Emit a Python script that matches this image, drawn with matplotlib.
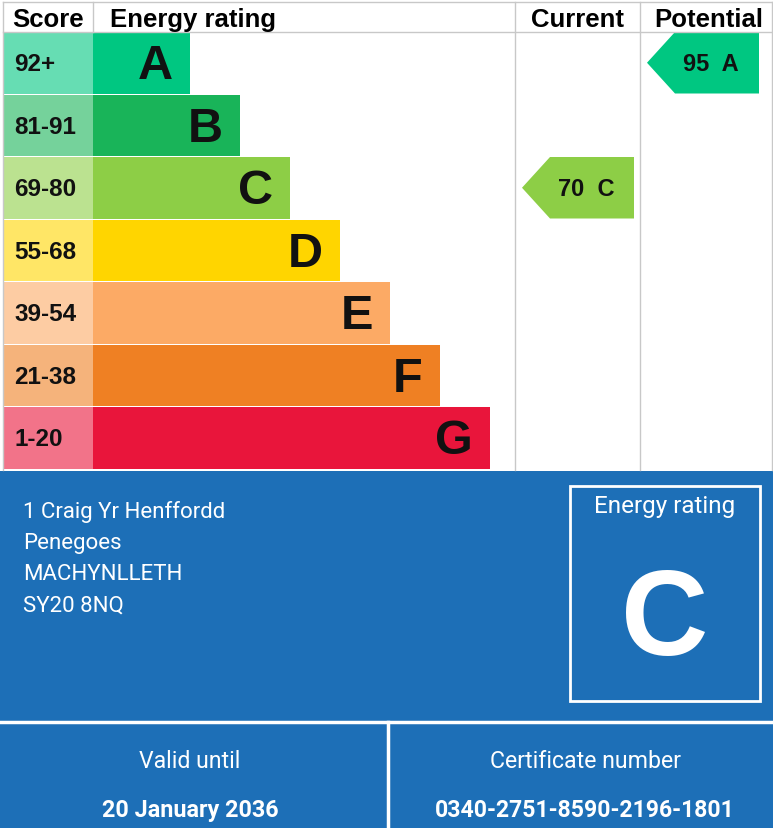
import matplotlib
matplotlib.use("Agg")
import matplotlib.pyplot as plt
from matplotlib.patches import Rectangle, Polygon

# ---- data ----
bands = ['A', 'B', 'C', 'D', 'E', 'F', 'G']
score_labels = ['92+', '81-91', '69-80', '55-68', '39-54', '21-38', '1-20']
band_colors = ['#00c781', '#19b459', '#8dce46', '#ffd500', '#fcaa65', '#ef8023', '#e9153b']
current_score = 70
current_band = 'C'
potential_score = 95
potential_band = 'A'
address_lines = ['1 Craig Yr Henffordd', 'Penegoes', 'MACHYNLLETH', 'SY20 8NQ']
valid_until = '20 January 2036'
certificate_number = '0340-2751-8590-2196-1801'

# ---- layout ----
W, H = 773, 829
fig = plt.figure(figsize=(W / 100, H / 100), dpi=100)
ax = fig.add_axes([0, 0, 1, 1])
ax.set_xlim(0, W)
ax.set_ylim(H, 0)
ax.axis('off')

BOLD = 'Liberation Sans'
GDS = 'Roboto'
grid = '#c8c8c8'
blue = '#1d6fb7'

top = 33
pitch = 62.5
rh = 61.5
score_x0, bar_x0 = 3, 93

def lighten(hexc, a=0.6):
    r, g, b = matplotlib.colors.to_rgb(hexc)
    return (r * a + (1 - a), g * a + (1 - a), b * a + (1 - a))

# grid lines
ax.plot([3, W - 1], [3, 3], color=grid, lw=1)
ax.plot([3, W - 1], [top, top], color=grid, lw=1)
for x in (3, 93, 515, 640, W - 1):
    ax.plot([x, x], [3, 471 if x != 93 else top], color=grid, lw=1)

# header
hs = 18.5
hy = 19.5
ax.text(48, hy, 'Score', ha='center', va='center', fontsize=hs, fontweight='bold', family=BOLD)
ax.text(110, hy, 'Energy rating', ha='left', va='center', fontsize=hs, fontweight='bold', family=BOLD)
ax.text(578, hy, 'Current', ha='center', va='center', fontsize=hs, fontweight='bold', family=BOLD)
ax.text(709, hy, 'Potential', ha='center', va='center', fontsize=hs, fontweight='bold', family=BOLD)

for i, (b, s, c) in enumerate(zip(bands, score_labels, band_colors)):
    y0 = top + i * pitch
    bar_end = 190 + 50 * i
    ax.add_patch(Rectangle((score_x0, y0), bar_x0 - score_x0, rh, facecolor=lighten(c), edgecolor='none'))
    ax.add_patch(Rectangle((bar_x0, y0), bar_end - bar_x0, rh, facecolor=c, edgecolor='none'))
    ax.text(14, y0 + rh / 2 + 1, s, ha='left', va='center', fontsize=17.5, fontweight='bold', family=BOLD, color='#111111')
    ax.text(bar_end - 17, y0 + rh / 2 + 3, b, ha='right', va='center', fontsize=35, fontweight='bold', family=BOLD, color='#111111')

def arrow(score, band, x_tip, x_right):
    i = bands.index(band)
    y0 = top + i * pitch
    y1 = y0 + rh
    ym = (y0 + y1) / 2
    notch = 28
    ax.add_patch(Polygon([(x_tip, ym), (x_tip + notch, y0), (x_right, y0), (x_right, y1), (x_tip + notch, y1)],
                         closed=True, facecolor=band_colors[i], edgecolor='none'))
    ax.text((x_tip + notch + x_right) / 2 - 6, ym + 1, f'{score}  {band}', ha='center', va='center',
            fontsize=17, fontweight='bold', family=BOLD, color='#111111')

arrow(current_score, current_band, 522, 634)
arrow(potential_score, potential_band, 647, 759)

# blue panel
ax.add_patch(Rectangle((0, 472), W, H - 472, facecolor=blue, edgecolor='none'))
for k, line in enumerate(address_lines):
    ax.text(23, 512 + k * 31.5, line, ha='left', va='center', fontsize=16, family=GDS, color='white')

ax.add_patch(Rectangle((570, 487), 190, 215, facecolor='none', edgecolor='white', lw=2))
ax.text(665, 507, 'Energy rating', ha='center', va='center', fontsize=17.5, family=GDS, color='white')
ax.text(665, 624, current_band, ha='center', va='center', fontsize=87, fontweight='bold', family=BOLD, color='white')

ax.plot([0, W], [723, 723], color='white', lw=2.5)
ax.plot([388, 388], [723, H], color='white', lw=2.5)
ax.text(190, 761, 'Valid until', ha='center', va='center', fontsize=16.6, family=GDS, color='white')
ax.text(190, 811, valid_until, ha='center', va='center', fontsize=16.8, fontweight='bold', family=GDS, color='white')
ax.text(585, 761, 'Certificate number', ha='center', va='center', fontsize=16.7, family=GDS, color='white')
ax.text(585, 811, certificate_number, ha='center', va='center', fontsize=16.6, fontweight='bold', family=GDS, color='white')

fig.savefig('out.png', dpi=100)
